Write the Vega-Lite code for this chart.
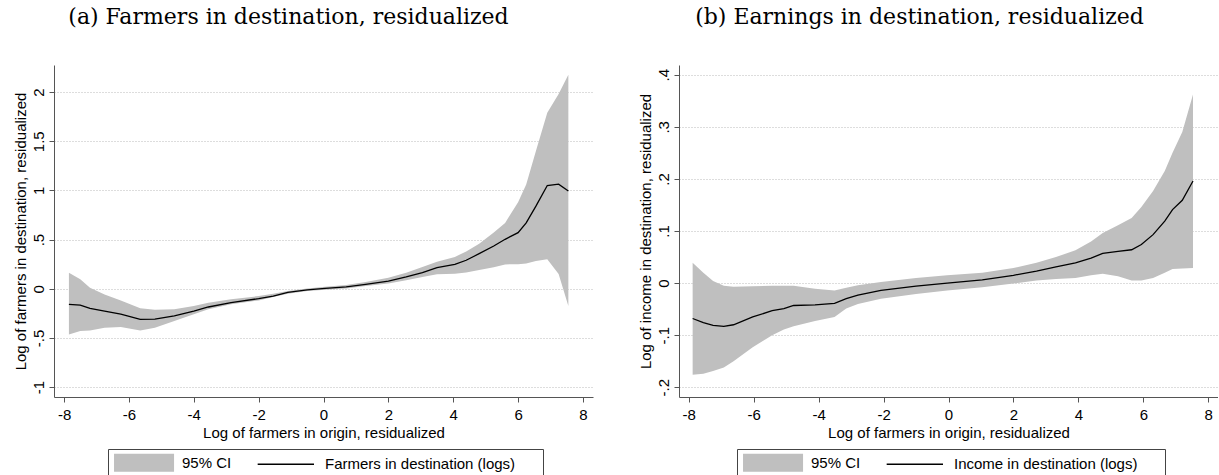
{
  "$schema": "https://vega.github.io/schema/vega-lite/v6.json",
  "background": "white",
  "padding": {"left": 13, "top": 6, "right": 0, "bottom": 0},
  "datasets": {
    "farmers": [
      {"x": -7.85, "lo": -0.464, "fit": -0.158, "hi": 0.164},
      {"x": -7.5, "lo": -0.43, "fit": -0.165, "hi": 0.096},
      {"x": -7.2, "lo": -0.424, "fit": -0.2, "hi": 0.011},
      {"x": -6.75, "lo": -0.396, "fit": -0.226, "hi": -0.057},
      {"x": -6.25, "lo": -0.389, "fit": -0.258, "hi": -0.118},
      {"x": -5.65, "lo": -0.425, "fit": -0.31, "hi": -0.199},
      {"x": -5.2, "lo": -0.396, "fit": -0.308, "hi": -0.213},
      {"x": -4.6, "lo": -0.328, "fit": -0.275, "hi": -0.209},
      {"x": -4.0, "lo": -0.26, "fit": -0.226, "hi": -0.175},
      {"x": -3.55, "lo": -0.209, "fit": -0.185, "hi": -0.141},
      {"x": -2.85, "lo": -0.158, "fit": -0.141, "hi": -0.107},
      {"x": -2.0, "lo": -0.118, "fit": -0.1, "hi": -0.074},
      {"x": -1.55, "lo": -0.084, "fit": -0.074, "hi": -0.05},
      {"x": -1.1, "lo": -0.05, "fit": -0.037, "hi": -0.023},
      {"x": -0.5, "lo": -0.023, "fit": -0.012, "hi": 0.004},
      {"x": 0.05, "lo": -0.009, "fit": 0.004, "hi": 0.021},
      {"x": 0.7, "lo": 0.004, "fit": 0.02, "hi": 0.038},
      {"x": 1.3, "lo": 0.028, "fit": 0.045, "hi": 0.068},
      {"x": 2.0, "lo": 0.055, "fit": 0.079, "hi": 0.113},
      {"x": 2.55, "lo": 0.086, "fit": 0.12, "hi": 0.164},
      {"x": 3.05, "lo": 0.12, "fit": 0.164, "hi": 0.222},
      {"x": 3.5, "lo": 0.147, "fit": 0.215, "hi": 0.276},
      {"x": 4.05, "lo": 0.152, "fit": 0.249, "hi": 0.324},
      {"x": 4.4, "lo": 0.165, "fit": 0.29, "hi": 0.38},
      {"x": 4.8, "lo": 0.19, "fit": 0.357, "hi": 0.459},
      {"x": 5.25, "lo": 0.22, "fit": 0.435, "hi": 0.571},
      {"x": 5.6, "lo": 0.248, "fit": 0.503, "hi": 0.67},
      {"x": 6.0, "lo": 0.25, "fit": 0.571, "hi": 0.88},
      {"x": 6.25, "lo": 0.256, "fit": 0.67, "hi": 1.06},
      {"x": 6.55, "lo": 0.283, "fit": 0.84, "hi": 1.4},
      {"x": 6.9, "lo": 0.3, "fit": 1.05, "hi": 1.79},
      {"x": 7.25, "lo": 0.15, "fit": 1.063, "hi": 1.98},
      {"x": 7.55, "lo": -0.175, "fit": 0.995, "hi": 2.176}
    ],
    "income": [
      {"x": -7.88, "lo": -0.176, "fit": -0.068, "hi": 0.039},
      {"x": -7.55, "lo": -0.174, "fit": -0.076, "hi": 0.02},
      {"x": -7.25, "lo": -0.169, "fit": -0.081, "hi": 0.004},
      {"x": -6.92, "lo": -0.162, "fit": -0.083, "hi": -0.005},
      {"x": -6.62, "lo": -0.15, "fit": -0.08, "hi": -0.007},
      {"x": -6.03, "lo": -0.123, "fit": -0.065, "hi": -0.006},
      {"x": -5.43, "lo": -0.1, "fit": -0.053, "hi": -0.005},
      {"x": -5.07, "lo": -0.089, "fit": -0.049, "hi": -0.005},
      {"x": -4.77, "lo": -0.083, "fit": -0.043, "hi": -0.005},
      {"x": -4.11, "lo": -0.073, "fit": -0.042, "hi": -0.011},
      {"x": -3.51, "lo": -0.065, "fit": -0.039, "hi": -0.014},
      {"x": -3.15, "lo": -0.049, "fit": -0.03, "hi": -0.009},
      {"x": -2.79, "lo": -0.04, "fit": -0.023, "hi": -0.004},
      {"x": -2.08, "lo": -0.03, "fit": -0.014, "hi": 0.002},
      {"x": -1.0, "lo": -0.021, "fit": -0.006, "hi": 0.01},
      {"x": -0.04, "lo": -0.014, "fit": 0.0, "hi": 0.015},
      {"x": 1.04, "lo": -0.008, "fit": 0.006, "hi": 0.02},
      {"x": 2.0, "lo": -0.001, "fit": 0.015, "hi": 0.029},
      {"x": 2.71, "lo": 0.005, "fit": 0.023, "hi": 0.039},
      {"x": 3.31, "lo": 0.008, "fit": 0.031, "hi": 0.05},
      {"x": 3.91, "lo": 0.01, "fit": 0.039, "hi": 0.063},
      {"x": 4.39, "lo": 0.015, "fit": 0.048, "hi": 0.08},
      {"x": 4.75, "lo": 0.018, "fit": 0.057, "hi": 0.096},
      {"x": 5.22, "lo": 0.013, "fit": 0.061, "hi": 0.111},
      {"x": 5.64, "lo": 0.005, "fit": 0.064, "hi": 0.125},
      {"x": 5.94, "lo": 0.005, "fit": 0.074, "hi": 0.146},
      {"x": 6.3, "lo": 0.01, "fit": 0.093, "hi": 0.177},
      {"x": 6.66, "lo": 0.02, "fit": 0.119, "hi": 0.215},
      {"x": 6.9, "lo": 0.027, "fit": 0.141, "hi": 0.25},
      {"x": 7.2, "lo": 0.028, "fit": 0.159, "hi": 0.29},
      {"x": 7.53, "lo": 0.029, "fit": 0.196, "hi": 0.362}
    ]
  },
  "spacing": 45,
  "resolve": {"scale": {"color": "independent"}, "legend": {"color": "independent"}},
  "hconcat": [
    {
      "width": 539,
      "height": 332,
      "data": {"name": "farmers"},
      "title": {"text": "(a) Farmers in destination, residualized", "dx": -35},
      "encoding": {
        "x": {
          "field": "x",
          "type": "quantitative",
          "title": "Log of farmers in origin, residualized",
          "scale": {"domain": [-8.31, 8.31], "nice": false, "zero": false},
          "axis": {"values": [-8, -6, -4, -2, 0, 2, 4, 6, 8]}
        }
      },
      "layer": [
        {
          "mark": {"type": "area", "opacity": 1},
          "encoding": {
            "y": {
              "field": "lo",
              "type": "quantitative",
              "title": "Log of farmers in destination, residualized",
              "scale": {"domain": [-1.1, 2.275], "nice": false, "zero": false},
              "axis": {"values": [-1, -0.5, 0, 0.5, 1, 1.5, 2]}
            },
            "y2": {"field": "hi"},
            "color": {
              "datum": "95% CI",
              "type": "nominal",
              "scale": {"domain": ["95% CI", "Farmers in destination (logs)"], "range": ["#bfbfbf", "#000000"]},
              "legend": {
                "legendX": 54,
                "legendY": 384,
                "labelExpr": "datum.value == '95% CI' ? datum.label : datum.label + '\u2800\u2800'",
                "encode": {
                  "symbols": {
                    "update": {
                      "shape": {"signal": "datum.value == '95% CI' ? 'M-0.91,-1.11H6.92V1.11H-0.91Z' : 'M-0.91,0H6.6'"},
                      "fill": {"signal": "datum.value == '95% CI' ? '#bfbfbf' : 'transparent'"},
                      "stroke": {"signal": "datum.value == '95% CI' ? 'transparent' : '#000000'"},
                      "strokeWidth": {"value": 1.3},
                      "size": {"value": 225},
                      "opacity": {"value": 1}
                    }
                  }
                }
              }
            }
          }
        },
        {
          "mark": {"type": "line", "strokeWidth": 1.3},
          "encoding": {
            "y": {
              "field": "fit",
              "type": "quantitative",
              "title": "Log of farmers in destination, residualized"
            },
            "color": {
              "datum": "Farmers in destination (logs)",
              "type": "nominal",
              "legend": {
                "legendX": 54,
                "legendY": 384,
                "labelExpr": "datum.value == '95% CI' ? datum.label : datum.label + '\u2800\u2800'",
                "encode": {
                  "symbols": {
                    "update": {
                      "shape": {"signal": "datum.value == '95% CI' ? 'M-0.91,-1.11H6.92V1.11H-0.91Z' : 'M-0.91,0H6.6'"},
                      "fill": {"signal": "datum.value == '95% CI' ? '#bfbfbf' : 'transparent'"},
                      "stroke": {"signal": "datum.value == '95% CI' ? 'transparent' : '#000000'"},
                      "strokeWidth": {"value": 1.3},
                      "size": {"value": 225},
                      "opacity": {"value": 1}
                    }
                  }
                }
              }
            }
          }
        }
      ]
    },
    {
      "width": 539,
      "height": 332,
      "data": {"name": "income"},
      "title": {"text": "(b) Earnings in destination, residualized", "dx": -29},
      "encoding": {
        "x": {
          "field": "x",
          "type": "quantitative",
          "title": "Log of farmers in origin, residualized",
          "scale": {"domain": [-8.3, 8.3], "nice": false, "zero": false},
          "axis": {"values": [-8, -6, -4, -2, 0, 2, 4, 6, 8]}
        }
      },
      "layer": [
        {
          "mark": {"type": "area", "opacity": 1},
          "encoding": {
            "y": {
              "field": "lo",
              "type": "quantitative",
              "title": "Log of income in destination, residualized",
              "scale": {"domain": [-0.2187, 0.4187], "nice": false, "zero": false},
              "axis": {"values": [-0.2, -0.1, 0, 0.1, 0.2, 0.3, 0.4]}
            },
            "y2": {"field": "hi"},
            "color": {
              "datum": "95% CI",
              "type": "nominal",
              "scale": {"domain": ["95% CI", "Income in destination (logs)"], "range": ["#bfbfbf", "#000000"]},
              "legend": {
                "legendX": 58,
                "legendY": 384,
                "labelExpr": "datum.value == '95% CI' ? datum.label : datum.label + '\u2800\u2800'",
                "encode": {
                  "symbols": {
                    "update": {
                      "shape": {"signal": "datum.value == '95% CI' ? 'M-0.91,-1.11H6.92V1.11H-0.91Z' : 'M-0.91,0H6.6'"},
                      "fill": {"signal": "datum.value == '95% CI' ? '#bfbfbf' : 'transparent'"},
                      "stroke": {"signal": "datum.value == '95% CI' ? 'transparent' : '#000000'"},
                      "strokeWidth": {"value": 1.3},
                      "size": {"value": 225},
                      "opacity": {"value": 1}
                    }
                  }
                }
              }
            }
          }
        },
        {
          "mark": {"type": "line", "strokeWidth": 1.3},
          "encoding": {
            "y": {
              "field": "fit",
              "type": "quantitative",
              "title": "Log of income in destination, residualized"
            },
            "color": {
              "datum": "Income in destination (logs)",
              "type": "nominal",
              "legend": {
                "legendX": 58,
                "legendY": 384,
                "labelExpr": "datum.value == '95% CI' ? datum.label : datum.label + '\u2800\u2800'",
                "encode": {
                  "symbols": {
                    "update": {
                      "shape": {"signal": "datum.value == '95% CI' ? 'M-0.91,-1.11H6.92V1.11H-0.91Z' : 'M-0.91,0H6.6'"},
                      "fill": {"signal": "datum.value == '95% CI' ? '#bfbfbf' : 'transparent'"},
                      "stroke": {"signal": "datum.value == '95% CI' ? 'transparent' : '#000000'"},
                      "strokeWidth": {"value": 1.3},
                      "size": {"value": 225},
                      "opacity": {"value": 1}
                    }
                  }
                }
              }
            }
          }
        }
      ]
    }
  ],
  "config": {
    "view": {"stroke": null},
    "font": "Liberation Sans",
    "axis": {
      "labelFont": "Liberation Sans",
      "labelFontSize": 15,
      "labelColor": "#000000",
      "titleFont": "Liberation Sans",
      "titleFontSize": 15,
      "titleFontWeight": "normal",
      "titleColor": "#000000",
      "domainColor": "#555555",
      "tickColor": "#555555",
      "tickSize": 5,
      "labelExpr": "(datum.value < 0 ? '-' : '') + replace(format(abs(datum.value), ''), regexp('^0[.]'), '.')"
    },
    "axisX": {"grid": false, "labelPadding": 5, "titlePadding": 3, "labelFlush": false},
    "axisY": {
      "grid": true,
      "gridColor": "#bbbbbb",
      "gridDash": [1, 2],
      "labelAngle": -90,
      "labelAlign": "center",
      "labelBaseline": "alphabetic",
      "labelPadding": 6,
      "titlePadding": 3
    },
    "title": {
      "font": "DejaVu Serif",
      "fontSize": 22,
      "fontWeight": "normal",
      "color": "#000000",
      "baseline": "alphabetic",
      "anchor": "middle",
      "offset": 36
    },
    "legend": {
      "orient": "none",
      "direction": "horizontal",
      "title": null,
      "strokeColor": "#444444",
      "padding": 5,
      "columnPadding": 23,
      "labelFont": "Liberation Sans",
      "labelFontSize": 15,
      "labelColor": "#000000",
      "labelLimit": 500,
      "labelOffset": 52,
      "symbolSize": 225,
      "symbolStrokeWidth": 1.3
    }
  }
}
